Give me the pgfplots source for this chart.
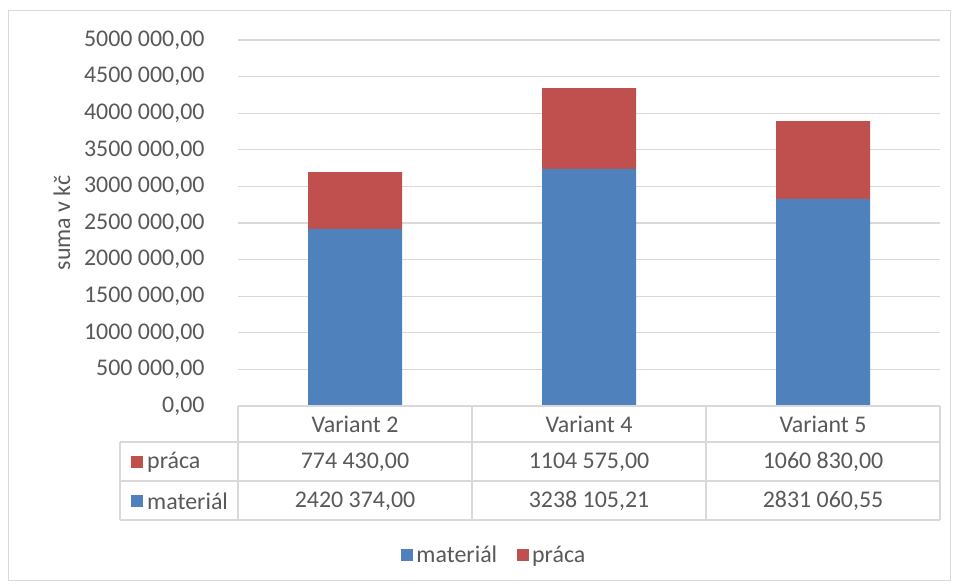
\documentclass[border=0pt]{standalone}
\usepackage{pgfplots}
\pgfplotsset{compat=1.18}
\usepackage{fontspec}
\setmainfont{Carlito}
\definecolor{matblue}{HTML}{4F81BD}
\definecolor{pracred}{HTML}{C0504D}
\definecolor{txtgray}{HTML}{595959}
\definecolor{gridgray}{HTML}{D9D9D9}

% values: materiál and práca per variant
\pgfplotstableread{
x material praca
0 2420374.00 774430.00
1 3238105.21 1104575.00
2 2831060.55 1060830.00
}\costs

\newcommand{\chartfont}{\fontsize{24}{28}\selectfont}

\begin{document}
\begin{tikzpicture}[font=\chartfont, text=txtgray]
% page and chart frame
\path[fill=white,use as bounding box] (0,0) rectangle (954bp,-586bp);
\draw[gridgray,line width=1bp] (8bp,-10bp) rectangle (950bp,-580bp);

\begin{axis}[
  at={(238bp,-406bp)}, anchor=south west,
  width=702bp, height=366bp, scale only axis,
  xmin=-0.5, xmax=2.5, ymin=0, ymax=5000000,
  axis line style={draw=none},
  scaled y ticks=false,
  ytick={0,500000,...,5000000},
  yticklabels={{0,00},{500 000,00},{1000 000,00},{1500 000,00},{2000 000,00},{2500 000,00},{3000 000,00},{3500 000,00},{4000 000,00},{4500 000,00},{5000 000,00}},
  yticklabel style={text=txtgray, font=\chartfont},
  tick align=outside, major tick length=0pt,
  yticklabel shift=30bp,
  xtick=\empty,
  ymajorgrids, grid style={gridgray, line width=1.2bp},
  ybar stacked, bar width=94bp,
  clip=false,
  legend columns=2,
  legend style={draw=none, fill=none, at={(rel axis cs:0.366,-0.407)}, anchor=center,
    font=\chartfont, text=txtgray,
    nodes={inner xsep=3.5bp},
    /tikz/every even column/.append style={column sep=16bp}},
  legend image code/.code={\fill[#1] (0bp,-6bp) rectangle (12bp,6bp);},
]
\addplot[fill=matblue, draw=none] table[x=x, y=material] {\costs};
\addplot[fill=pracred, draw=none] table[x=x, y=praca] {\costs};
\legend{materiál, práca}
\end{axis}

% y axis title
\node[rotate=90, text=txtgray] at (62bp,-223bp) {suma v kč};

% data table under the plot
\begin{scope}[gridgray, line width=1.2bp]
  \draw (238bp,-406bp) -- (940bp,-406bp);
  \draw (120bp,-442bp) -- (940bp,-442bp);
  \draw (120bp,-481bp) -- (940bp,-481bp);
  \draw (120bp,-520bp) -- (940bp,-520bp);
  \draw (120bp,-442bp) -- (120bp,-520bp);
  \foreach \xx in {238,472,706,940} \draw (\xx bp,-406bp) -- (\xx bp,-520bp);
\end{scope}
\node at (355bp,-424bp) {Variant 2};
\node at (589bp,-424bp) {Variant 4};
\node at (823bp,-424bp) {Variant 5};
\node at (355bp,-462bp) {774 430,00};
\node at (589bp,-462bp) {1104 575,00};
\node at (823bp,-462bp) {1060 830,00};
\node at (355bp,-501bp) {2420 374,00};
\node at (589bp,-501bp) {3238 105,21};
\node at (823bp,-501bp) {2831 060,55};
\fill[pracred] (131bp,-456bp) rectangle (143bp,-468bp);
\node[anchor=west, inner sep=0pt] at (147bp,-462bp) {práca};
\fill[matblue] (131bp,-495bp) rectangle (143bp,-507bp);
\node[anchor=west, inner sep=0pt] at (147bp,-501bp) {materiál};
\end{tikzpicture}
\end{document}
